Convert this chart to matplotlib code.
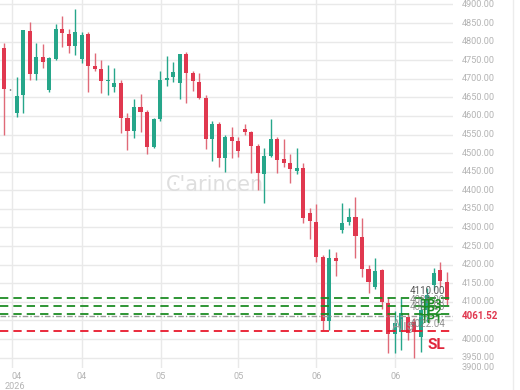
import matplotlib
matplotlib.use("Agg")
import matplotlib.pyplot as plt
import numpy as np

# ---- data ----
opens  = [4782, 4672, 4609, 4656, 4829, 4713, 4759, 4670, 4753, 4834,
          4820, 4789, 4752, 4820, 4734, 4726, 4694, 4677, 4688, 4594,
          4560, 4623, 4612, 4517, 4592, 4696, 4704, 4690, 4766, 4715,
          4692, 4649, 4537, 4578, 4486, 4544, 4533, 4564, 4558, 4519,
          4444, 4492, 4537, 4483, 4474, 4453, 4459, 4340, 4314, 4220,
          4048, 4217, 4293, 4314, 4329, 4275, 4188, 4139, 4186, 4098,
          4014, 4020, 4060, 4047, 4006, 4078, 4145, 4186, 4154]
highs  = [4797, 4673, 4704, 4831, 4854, 4797, 4793, 4760, 4847, 4869,
          4833, 4887, 4825, 4827, 4770, 4751, 4737, 4728, 4697, 4607,
          4645, 4658, 4616, 4595, 4721, 4761, 4746, 4768, 4771, 4722,
          4716, 4656, 4587, 4585, 4549, 4571, 4543, 4578, 4560, 4525,
          4513, 4592, 4543, 4538, 4498, 4513, 4474, 4352, 4362, 4226,
          4242, 4235, 4365, 4352, 4381, 4325, 4199, 4217, 4188, 4110,
          4074, 4110, 4069, 4057, 4114, 4136, 4192, 4207, 4180]
lows   = [4549, 4671, 4598, 4607, 4697, 4697, 4728, 4664, 4751, 4785,
          4770, 4764, 4743, 4665, 4721, 4661, 4656, 4665, 4553, 4508,
          4540, 4558, 4498, 4513, 4587, 4681, 4692, 4646, 4636, 4668,
          4645, 4510, 4480, 4464, 4450, 4486, 4490, 4549, 4447, 4401,
          4365, 4490, 4447, 4464, 4421, 4444, 4311, 4268, 4208, 4024,
          4024, 4170, 4284, 4307, 4217, 4168, 4123, 4135, 4080, 3962,
          3962, 3970, 3997, 3948, 3966, 4047, 4132, 4140, 4092]
closes = [4673, 4672, 4655, 4831, 4713, 4759, 4746, 4755, 4834, 4822,
          4789, 4825, 4818, 4735, 4726, 4694, 4697, 4688, 4594, 4560,
          4623, 4610, 4517, 4591, 4696, 4702, 4719, 4766, 4715, 4694,
          4649, 4537, 4578, 4486, 4544, 4533, 4507, 4558, 4519, 4446,
          4492, 4537, 4482, 4473, 4457, 4459, 4326, 4318, 4221, 4048,
          4217, 4210, 4311, 4329, 4277, 4188, 4153, 4184, 4100, 4014,
          4044, 4069, 4015, 4020, 4078, 4118, 4177, 4156, 4105]

x_tick_labels = ["04", "04", "05", "05", "06", "06"]
year_label = "2026"

tp_levels = [4110.00, 4088.00, 4067.00]
tp_names = ["TP1", "TP2", "TP3"]
entry_level = 4061.52
sl_level = 4022.00
y_ticks = list(range(3950, 4901, 50))

# ---- styling ----
RED = "#e0384f"
GREEN = "#26a68a"
LABEL = "#b4b4b4"
GRID = "#e9e9e9"
plt.rcParams['font.family'] = ['Roboto', 'DejaVu Sans']

W, H = 520, 390
fig = plt.figure(figsize=(W / 100, H / 100), dpi=100)
ax = fig.add_axes([0, 22 / H, 453 / W, 368 / H])

n = len(opens)
xs = np.arange(n)
ymin, ymax = 3922, 4912
ax.set_xlim(-0.57, n - 0.03)
ax.set_ylim(ymin, ymax)

# grid
grid_x = [1.2, 12, 24.1, 36, 48, 60.1]
for gx in grid_x:
    ax.axvline(gx, color=GRID, lw=1.0, zorder=0)
for gy in y_ticks:
    ax.axhline(gy, color=GRID, lw=1.0, zorder=0)

# candles
o = np.array(opens, float); c = np.array(closes, float)
h = np.array(highs, float); l = np.array(lows, float)
cols = [GREEN if cc > oo else (RED if cc < oo else "#222222") for oo, cc in zip(o, c)]
wick_cols = [GREEN if cc > oo else ("#e06a78" if cc < oo else "#222222") for oo, cc in zip(o, c)]
ax.vlines(xs, l, h, colors=wick_cols, lw=1.0, zorder=2)
bottoms = np.minimum(o, c)
heights = np.maximum(np.abs(c - o), 1.5)
ax.bar(xs, heights, bottom=bottoms, width=0.62, color=cols, zorder=3, linewidth=0)

# level lines
for lv in tp_levels:
    ax.axhline(lv, color="#1e8c24", lw=1.3, dashes=(4.6, 2.8), zorder=4)
ax.axhline(entry_level, color="#9c9c9c", lw=1.0, dashes=(4, 1.5, 1, 1.5), zorder=4)
ax.axhline(sl_level, color="#e8192c", lw=1.3, dashes=(4.6, 2.8), zorder=4)

# overlapping labels on the right (they overlap in the original too)
ax.text(62.3, 4129, "4110.00", color="#555555", fontsize=7, va="center", ha="left", zorder=6)
ax.text(62.3, 4106, "4088.00", color="#777777", fontsize=7, va="center", ha="left", zorder=6, alpha=0.8)
ax.text(62.3, 4085, "4067.00", color="#777777", fontsize=7, va="center", ha="left", zorder=6, alpha=0.8)
ax.text(64.0, 4093, tp_names[2], color="#1e8c24", fontsize=8.5, fontweight="bold", va="center", zorder=6)
ax.text(64.0, 4073, tp_names[1], color="#1e8c24", fontsize=8.5, fontweight="bold", va="center", zorder=6)
ax.text(64.0, 4053, tp_names[0], color="#1e8c24", fontsize=8.5, fontweight="bold", va="center", zorder=6)
ax.text(59.6, 4036, "Alış", color="#9a9a9a", fontsize=10, va="center", ha="left", zorder=6, alpha=0.9)
ax.text(62.3, 4040, "4022.04", color="#777777", fontsize=7, va="center", ha="left", zorder=6, alpha=0.8)
ax.text(65.0, 3985, "SL", color="#e0263c", fontsize=11, fontweight="bold", va="center", ha="left", zorder=6)

# watermark
ax.text(32.4, 4414, "Ͼ'arincen", color="#dedede", fontsize=15,
        ha="center", va="center", zorder=1, family=["DejaVu Sans"])

# axes styling
for s in ax.spines.values():
    s.set_visible(False)
ax.set_xticks([])
ax.set_yticks([])

# right price labels (the one next to the current price is hidden behind it)
for v in y_ticks:
    if abs(v - entry_level) < 20:
        continue
    fig.text(462 / W, (22 + (v - ymin) / (ymax - ymin) * 368) / H, f"{v:.2f}",
             color=LABEL, fontsize=6.6, va="center", ha="left")
fig.text(462 / W, (390 - 367) / H, "3900.00", color=LABEL, fontsize=6.6, va="center", ha="left")
fig.text(462 / W, (22 + (entry_level - ymin) / (ymax - ymin) * 368) / H, f"{entry_level:.2f}",
         color=RED, fontsize=7, fontweight="bold", va="center", ha="left")

# bottom date labels
label_x = [1.9, 12, 24.1, 36, 48, 60.1]
for lx, lab in zip(label_x, x_tick_labels):
    ax.text(lx, -0.01, lab, transform=ax.get_xaxis_transform(), color=LABEL,
            fontsize=6.6, ha="center", va="top")
ax.text(1.75, -0.038, year_label, transform=ax.get_xaxis_transform(), color=LABEL,
        fontsize=6.6, ha="center", va="top")

# faint card border
fig.add_artist(plt.Line2D([513 / W, 513 / W], [0, 1], color="#ececec", lw=1, transform=fig.transFigure))

fig.savefig("out.png", dpi=100, facecolor="white")
